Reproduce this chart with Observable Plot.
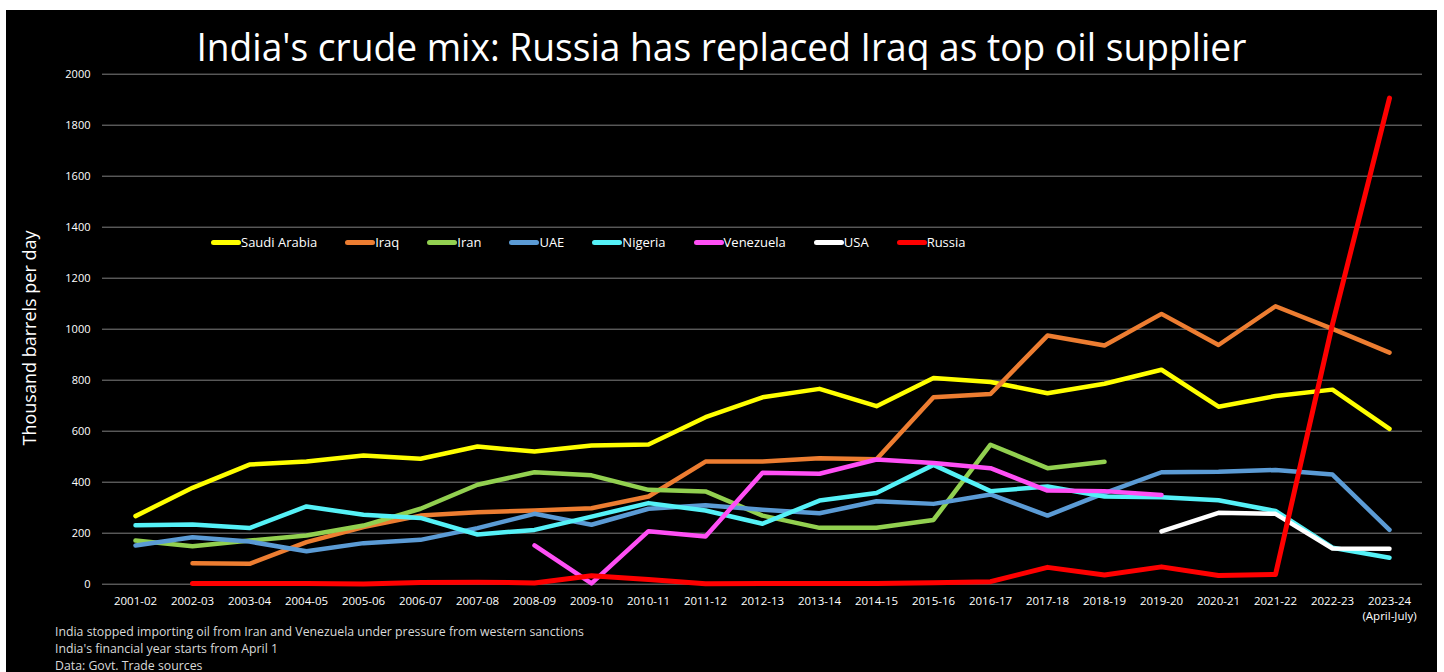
<!DOCTYPE html>
<html>
<head>
<meta charset="utf-8">
<script src="https://cdn.jsdelivr.net/npm/d3@7"></script>
<script src="https://cdn.jsdelivr.net/npm/@observablehq/plot@0.6"></script>
<style>
  html, body { margin: 0; padding: 0; background: #fff; }
  #panel { position: absolute; left: 6px; top: 10px; width: 1431px; height: 670px; background: #000; overflow: hidden; font-family: "Open Sans", sans-serif; color: #fff; }
  #chart { position: absolute; left: 0; top: 0; }
  #title { position: absolute; left: 0; top: 16px; width: 1431px; text-align: center; line-height: 1; }
  #title span { display: inline-block; font-size: 39px; white-space: nowrap; transform-origin: center; }
  #ylabel { position: absolute; left: 23px; top: 328px; transform: translate(-50%, -50%) rotate(-90deg); white-space: nowrap; font-size: 18px; line-height: 1; }
  #legend { position: absolute; left: 205px; top: 222px; height: 20px; display: flex; align-items: center; gap: 28px; font-size: 13px; }
  .item { display: flex; align-items: center; }
  .sw { display: inline-block; width: 30px; height: 5px; border-radius: 3px; }
  #notes { position: absolute; left: 49px; top: 613px; font-size: 12.3px; line-height: 17px; color: #d9d9d9; white-space: nowrap; }
</style>
</head>
<body>
<div id="panel">
  <div id="chart"></div>
  <div id="title"><span>India's crude mix: Russia has replaced Iraq as top oil supplier</span></div>
  <div id="ylabel">Thousand barrels per day</div>
  <div id="legend"></div>
  <div id="notes"></div>
</div>
<script>
// ---- data (thousand barrels per day) ----
const years = ["2001-02","2002-03","2003-04","2004-05","2005-06","2006-07","2007-08","2008-09","2009-10","2010-11","2011-12","2012-13","2013-14","2014-15","2015-16","2016-17","2017-18","2018-19","2019-20","2020-21","2021-22","2022-23","2023-24"];
const xTickLabels = ["2001-02","2002-03","2003-04","2004-05","2005-06","2006-07","2007-08","2008-09","2009-10","2010-11","2011-12","2012-13","2013-14","2014-15","2015-16","2016-17","2017-18","2018-19","2019-20","2020-21","2021-22","2022-23","2023-24\n(April-July)"];
const yTicks = [0, 200, 400, 600, 800, 1000, 1200, 1400, 1600, 1800, 2000];

const seriesNames = ["Saudi Arabia","Iraq","Iran","UAE","Nigeria","Venezuela","USA","Russia"];
const seriesColors = ["#FFFF00","#ED7D31","#92D050","#5B9BD5","#55F1F7","#FF4FF5","#FFFFFF","#FF0000"];

const saudiArabia = [267,378,469,481,505,492,540,520,544,548,655,733,766,698,809,793,749,786,841,696,738,763,609];
const iraq        = [null,82,80,165,224,269,282,289,298,344,481,481,494,490,733,746,975,936,1060,938,1090,1001,908];
const iran        = [171,149,171,191,230,296,390,439,427,370,364,269,221,221,252,547,455,480,null,null,null,null,null];
const uae         = [152,184,167,129,161,174,220,276,233,296,310,292,278,325,315,352,269,357,439,441,448,430,213];
const nigeria     = [231,234,220,305,272,260,195,213,265,318,289,237,328,358,468,365,383,344,341,329,287,143,104];
const venezuela   = [null,null,null,null,null,null,null,152,3,208,187,437,433,489,475,455,367,365,350,null,null,null,null];
const usa         = [null,null,null,null,null,null,null,null,null,null,null,null,null,null,null,null,null,null,207,280,276,140,139];
const russia      = [null,3,3,3,1,7,8,5,33,18,2,3,3,3,6,10,66,36,68,34,38,1020,1906];

const footnotes = [
  "India stopped importing oil from Iran and Venezuela under pressure from western sanctions",
  "India's financial year starts from April 1",
  "Data: Govt. Trade sources"
];

// ---- build table ----
const seriesValues = [saudiArabia, iraq, iran, uae, nigeria, venezuela, usa, russia];
const rows = [];
seriesNames.forEach((name, i) => {
  seriesValues[i].forEach((v, j) => {
    if (v != null) rows.push({series: name, year: years[j], value: v});
  });
});
const others = rows.filter(d => d.series !== "Russia");
const russiaRows = rows.filter(d => d.series === "Russia");

const W = 1431, H = 612;
const chart = Plot.plot({
  width: W,
  height: H,
  marginTop: 63.7,
  marginBottom: H - 573.7,
  marginLeft: 96,
  marginRight: 15,
  style: {background: "transparent", color: "#fff", fontFamily: "'Open Sans', sans-serif", overflow: "visible"},
  x: {type: "point", domain: years, padding: 0.5, label: null},
  y: {domain: [0, 2000], label: null},
  color: {domain: seriesNames, range: seriesColors},
  marks: [
    Plot.gridY(yTicks, {stroke: "#808080", strokeOpacity: 1, strokeWidth: 1}),
    Plot.axisY(yTicks, {tickSize: 0, tickPadding: 12, fontSize: 11, label: null, fill: "#fff", tickFormat: d => String(d)}),
    Plot.axisX(years, {tickSize: 0, tickPadding: 11, fontSize: 11.5, label: null, fill: "#fff", lineHeight: 1.25,
      tickFormat: d => xTickLabels[years.indexOf(d)]}),
    Plot.line(others, {x: "year", y: "value", z: "series", stroke: "series", strokeWidth: 4.5,
      strokeLinejoin: "round", strokeLinecap: "round"}),
    Plot.line(russiaRows, {x: "year", y: "value", z: "series", stroke: "series", strokeWidth: 5,
      strokeLinejoin: "round", strokeLinecap: "round"})
  ]
});
document.getElementById("chart").appendChild(chart);

// legend
const legend = document.getElementById("legend");
seriesNames.forEach((name, i) => {
  const item = document.createElement("div");
  item.className = "item";
  const sw = document.createElement("span");
  sw.className = "sw";
  sw.style.background = seriesColors[i];
  const lab = document.createElement("span");
  lab.textContent = name;
  item.appendChild(sw);
  item.appendChild(lab);
  legend.appendChild(item);
});

// footnotes
const notes = document.getElementById("notes");
footnotes.forEach(t => {
  const div = document.createElement("div");
  div.textContent = t;
  notes.appendChild(div);
});

// fit title width to reference (~1050px)
const tspan = document.querySelector("#title span");
const tw = tspan.getBoundingClientRect().width;
if (tw > 0) tspan.style.transform = `scaleX(${1050 / tw})`;
</script>
</body>
</html>
